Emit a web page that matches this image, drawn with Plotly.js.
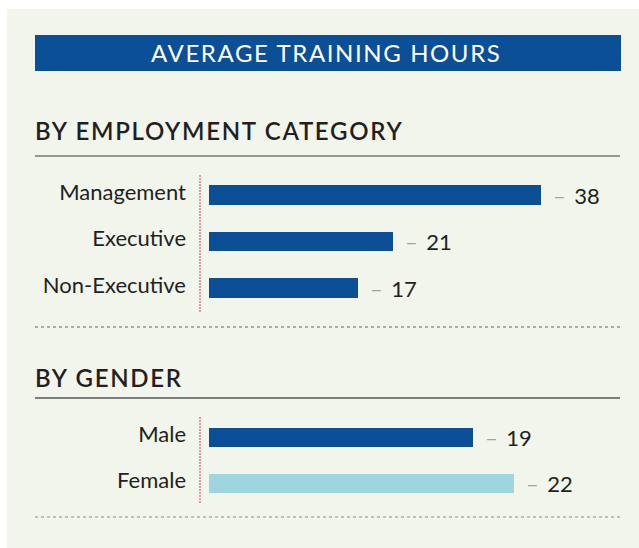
<!DOCTYPE html>
<html>
<head>
<meta charset="utf-8">
<script src="https://cdn.plot.ly/plotly-3.0.1.min.js"></script>
<style>
html,body{margin:0;padding:0;background:#fff;}
#chart{width:639px;height:548px;}
</style>
</head>
<body>
<div id="chart"></div>
<script>
// ---- data ----
const chartTitle = 'AVERAGE TRAINING HOURS';
const sectionTitles = ['BY EMPLOYMENT CATEGORY', 'BY GENDER'];
const empCategories = ['Management', 'Executive', 'Non-Executive'];
const empHours = [38, 21, 17];
const genderCategories = ['Male', 'Female'];
const genderHours = [19, 22];
const genderColors = ['#0b4f97', '#9dd6de'];

// ---- styles ----
const W = 639, H = 548;
const FONT = 'Lato, "Open Sans", sans-serif';
const TXT = '#231f20';
const BLUE = '#0b4f97';
const PINK = '#e05586';
const px = v => v / W;
const py = v => 1 - v / H;

const traces = [
  {type: 'bar', orientation: 'h', x: empHours, y: empCategories, xaxis: 'x', yaxis: 'y',
   marker: {color: BLUE}, width: 0.41, hoverinfo: 'skip'},
  {type: 'bar', orientation: 'h', x: genderHours, y: genderCategories, xaxis: 'x2', yaxis: 'y2',
   marker: {color: genderColors}, width: 0.41, hoverinfo: 'skip'}
];

const hiddenX = {showgrid: false, zeroline: false, showticklabels: false, showline: false, ticks: '', fixedrange: true};
const catY = {type: 'category', autorange: 'reversed', showgrid: false, zeroline: false, showline: false,
  ticks: '', ticklabelstandoff: 22, ticklabelshift: 3, tickfont: {family: FONT, size: 22, color: TXT}, fixedrange: true};

const annotations = [];
function valueLabels(cats, vals, xr, yr) {
  cats.forEach((c, i) => {
    annotations.push({xref: xr, yref: yr, x: vals[i], y: c, xanchor: 'left', yanchor: 'middle',
      xshift: 10, showarrow: false,
      text: '<span style="color:#a3a3a3">–</span>&nbsp;&#8201;' + vals[i],
      font: {family: FONT, size: 22, color: TXT}});
  });
}
valueLabels(empCategories, empHours, 'x', 'y');
valueLabels(genderCategories, genderHours, 'x2', 'y2');

annotations.push({xref: 'paper', yref: 'paper', x: px(326), y: py(53), xanchor: 'center', yanchor: 'middle',
  showarrow: false, text: '<span style="letter-spacing:1.6px">' + chartTitle + '</span>',
  font: {family: FONT, size: 24, color: '#ffffff'}});
annotations.push({xref: 'paper', yref: 'paper', x: px(33), y: py(131), xanchor: 'left', yanchor: 'middle',
  showarrow: false, text: '<span style="letter-spacing:1.7px">' + sectionTitles[0] + '</span>',
  font: {family: FONT, size: 24, color: TXT, weight: 600}});
annotations.push({xref: 'paper', yref: 'paper', x: px(33), y: py(377), xanchor: 'left', yanchor: 'middle',
  showarrow: false, text: '<span style="letter-spacing:1.7px">' + sectionTitles[1] + '</span>',
  font: {family: FONT, size: 24, color: TXT, weight: 600}});

const shapes = [
  {type: 'rect', xref: 'paper', yref: 'paper', x0: px(7), x1: px(639), y0: py(9), y1: py(548),
   fillcolor: '#f2f5ec', line: {width: 0}, layer: 'below'},
  {type: 'rect', xref: 'paper', yref: 'paper', x0: px(35), x1: px(621), y0: py(35), y1: py(71),
   fillcolor: BLUE, line: {width: 0}, layer: 'below'},
  {type: 'line', xref: 'paper', yref: 'paper', x0: px(35), x1: px(620), y0: py(156), y1: py(156),
   line: {color: '#777777', width: 1.5}},
  {type: 'line', xref: 'paper', yref: 'paper', x0: px(35), x1: px(620), y0: py(398), y1: py(398),
   line: {color: '#555555', width: 1.5}},
  {type: 'line', xref: 'paper', yref: 'paper', x0: px(35), x1: px(621), y0: py(327), y1: py(327),
   line: {color: '#666666', width: 1, dash: 'dot'}},
  {type: 'line', xref: 'paper', yref: 'paper', x0: px(35), x1: px(621), y0: py(517), y1: py(517),
   line: {color: '#888888', width: 1, dash: 'dot'}},
  {type: 'line', xref: 'paper', yref: 'paper', x0: px(200), x1: px(200), y0: py(175), y1: py(313),
   line: {color: PINK, width: 1.2, dash: '2px,1px'}},
  {type: 'line', xref: 'paper', yref: 'paper', x0: px(200), x1: px(200), y0: py(417), y1: py(503),
   line: {color: PINK, width: 1.2, dash: '2px,1px'}}
];

const layout = {
  width: W, height: H, margin: {l: 0, r: 0, t: 0, b: 0, pad: 0},
  paper_bgcolor: '#ffffff', plot_bgcolor: 'rgba(0,0,0,0)',
  showlegend: false, bargap: 0,
  font: {family: FONT, color: TXT},
  xaxis: Object.assign({}, hiddenX, {domain: [px(209), px(620)], range: [0, 47], anchor: 'y'}),
  yaxis: Object.assign({}, catY, {domain: [py(311.25), py(171.75)], anchor: 'x', categoryarray: empCategories}),
  xaxis2: Object.assign({}, hiddenX, {domain: [px(209), px(620)], range: [0, 29.6], anchor: 'y2'}),
  yaxis2: Object.assign({}, catY, {domain: [py(506.5), py(414.5)], anchor: 'x2', categoryarray: genderCategories}),
  shapes: shapes,
  annotations: annotations
};

Plotly.newPlot('chart', traces, layout, {displayModeBar: false, staticPlot: true});
</script>
</body>
</html>
